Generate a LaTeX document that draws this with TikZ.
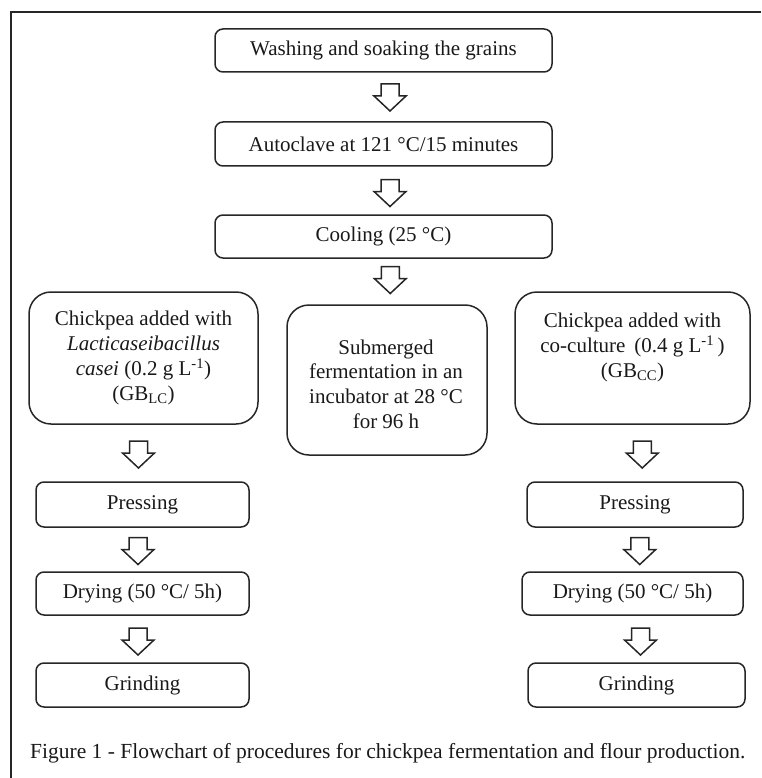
\documentclass[tikz,border=0pt]{standalone}
\usepackage{fontspec}
\setmainfont{Liberation Serif}
\usetikzlibrary{calc}
\tikzset{
  box/.style={draw=black!85, line width=1.5pt, rounded corners=8pt, inner sep=0pt, align=center, font=\fontsize{21}{25}\selectfont, text=black!90},
  bigbox/.style={box, rounded corners=22pt},
  boxtext/.style={inner sep=0pt, align=center, font=\fontsize{21}{24.7}\selectfont, text=black!90},
  hollowarrow/.style={draw=black!85, line width=1.5pt, fill=white, line join=miter},
  frame/.style={draw=black!85, line width=1.2pt},
  caption/.style={font=\fontsize{21.5}{25}\selectfont, text=black!90, anchor=west, inner sep=0pt}
}
\newcommand{\blockdown}[1]{%
  \draw[hollowarrow] ($#1+(-9,-13)$) -- ++(18,0) -- ++(0,12) -- ++(7,0) -- ++(-16,15) -- ++(-16,-15) -- ++(7,0) -- cycle;}
\begin{document}
\begin{tikzpicture}[x=1pt,y=-1pt]
\useasboundingbox (0,0) rectangle (761,778);
\coordinate (fa) at (11,778);
\coordinate (fb) at (11,12);
\coordinate (fc) at (761,12);
\draw[frame] (fa) -- (fb) -- (fc);

\node[box, minimum width=337pt, minimum height=43pt] (wash) at (383.5,50.5) {Washing and soaking the grains};
\node[box, minimum width=337pt, minimum height=44pt] (auto) at (383.5,144) {Autoclave at 121 °C/15 minutes};
\node[box, minimum width=337pt, minimum height=43pt] (cool) at (383.5,236.5) {Cooling (25 °C)};

\node[bigbox, minimum width=229pt, minimum height=132pt] (lc) at (143.5,358) {Chickpea added with\\\textit{Lacticaseibacillus}\\\textit{casei} (0.2 g L\textsuperscript{-1})\\(GB\textsubscript{LC})};
\node[bigbox, minimum width=200pt, minimum height=150pt] (sub) at (387,380) {};
\node[boxtext] (subtext) at (386,384) {Submerged\\fermentation in an\\incubator at 28 °C\\for 96 h};
\node[bigbox, minimum width=235pt, minimum height=132pt] (cc) at (632.5,358) {Chickpea added with\\co-culture\, (0.4 g L\textsuperscript{-1}\,)\\(GB\textsubscript{CC})\\\mbox{}};

\node[box, minimum width=213pt, minimum height=45pt] (pl) at (142.5,504.5) {Pressing};
\node[box, minimum width=213pt, minimum height=43pt] (dl) at (142.5,593.5) {Drying (50 °C/ 5h)};
\node[box, minimum width=213pt, minimum height=44pt] (gl) at (142.5,685) {Grinding};

\node[box, minimum width=216pt, minimum height=45pt] (pr) at (635,504.5) {Pressing};
\node[box, minimum width=221pt, minimum height=43pt] (dr) at (632.5,593.5) {Drying (50 °C/ 5h)};
\node[box, minimum width=217pt, minimum height=44pt] (gr) at (636.5,685) {Grinding};

\blockdown{($(wash.south)!0.5!(auto.north)+(6.5,0)$)}
\blockdown{($(auto.south)!0.5!(cool.north)+(6.5,2)$)}
\blockdown{($(cool.south)!0.5!(sub.north)+(5,-2)$)}

\blockdown{($(lc.south)!0.5!(pl.north)+(-4.5,1)$)}
\blockdown{($(pl.south)!0.5!(dl.north)+(-4.5,1)$)}
\blockdown{($(dl.south)!0.5!(gl.north)+(-4.5,2)$)}

\blockdown{($(cc.south)!0.5!(pr.north)+(8.5,1)$)}
\blockdown{($(pr.south)!0.5!(dr.north)+(6,1)$)}
\blockdown{($(dr.south)!0.5!(gr.north)+(6,2)$)}

\node[caption] (cap) at (30,753) {Figure 1 - Flowchart of procedures for chickpea fermentation and flour production.};
\end{tikzpicture}
\end{document}
